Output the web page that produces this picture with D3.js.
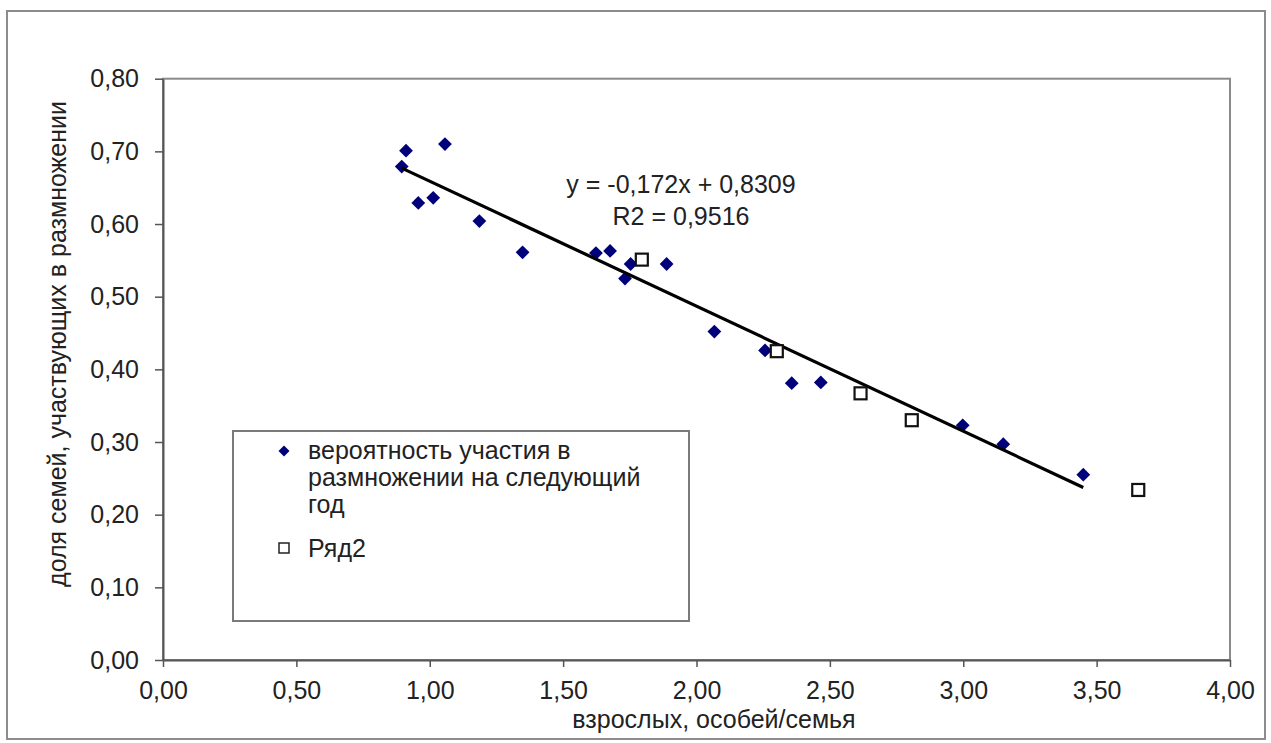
<!DOCTYPE html>
<html>
<head>
<meta charset="utf-8">
<script src="https://cdn.jsdelivr.net/npm/d3@7"></script>
<style>
    html, body { margin: 0; padding: 0; background: #fff; }
    svg { display: block; font-family: 'Liberation Sans', Arial, sans-serif; }
</style>
</head>
<body>
<div id="chart"></div>
<script>
// данные
const series1Name = ['вероятность участия в', 'размножении на следующий', 'год'];
const series1X = [0.895, 0.911, 0.957, 1.013, 1.057, 1.186, 1.348, 1.623, 1.676, 1.732, 1.753, 1.888, 2.067, 2.257, 2.357, 2.466, 2.998, 3.150, 3.450];
const series1Y = [0.679, 0.701, 0.629, 0.636, 0.710, 0.604, 0.561, 0.560, 0.563, 0.525, 0.545, 0.545, 0.452, 0.426, 0.381, 0.382, 0.323, 0.297, 0.255];

const series2Name = 'Ряд2';
const series2X = [1.795, 2.301, 2.615, 2.807, 3.656];
const series2Y = [0.551, 0.425, 0.367, 0.330, 0.234];

// линия тренда по ряду 1
const trendSlope = -0.172;
const trendIntercept = 0.8309;
const trendLabels = ['y = -0,172x + 0,8309', 'R2 = 0,9516'];

const xTicks = [0, 0.5, 1, 1.5, 2, 2.5, 3, 3.5, 4];
const yTicks = [0, 0.1, 0.2, 0.3, 0.4, 0.5, 0.6, 0.7, 0.8];
const xTitle = 'взрослых, особей/семья';
const yTitle = 'доля семей, участвующих в размножении';

const width = 1271;
const height = 743;
const plot = { left: 163, top: 78.7, right: 1230, bottom: 660 };
const fontSize = 25;

const locale = d3.formatLocale({ decimal: ',', thousands: ' ', grouping: [3], currency: ['', ''] });
const fmt = locale.format('.2f');

const svg = d3.select('#chart')
    .append('svg')
    .attr('width', width)
    .attr('height', height);

// внешняя рамка
svg.append('rect')
    .attr('x', 7)
    .attr('y', 11)
    .attr('width', 1258)
    .attr('height', 728)
    .attr('fill', '#fff')
    .attr('stroke', '#8c8c8c')
    .attr('stroke-width', 2);

const x = d3.scaleLinear().domain([0, 4]).range([plot.left, plot.right]);
const y = d3.scaleLinear().domain([0, 0.8]).range([plot.bottom, plot.top]);

// рамка области построения
svg.append('rect')
    .attr('x', plot.left)
    .attr('y', plot.top)
    .attr('width', plot.right - plot.left)
    .attr('height', plot.bottom - plot.top)
    .attr('fill', 'none')
    .attr('stroke', '#8a8a8a')
    .attr('stroke-width', 2);

// оси
const yAxis = d3.axisLeft(y)
    .tickValues(yTicks)
    .tickFormat(fmt)
    .tickSize(8)
    .tickSizeOuter(0)
    .tickPadding(16);
const gy = svg.append('g')
    .attr('transform', `translate(${plot.left}, 0)`)
    .call(yAxis);

const xAxis = d3.axisBottom(x)
    .tickValues(xTicks)
    .tickFormat(fmt)
    .tickSize(7)
    .tickSizeOuter(0)
    .tickPadding(14);
const gx = svg.append('g')
    .attr('transform', `translate(0, ${plot.bottom})`)
    .call(xAxis);

[gx, gy].forEach((g) => {
    g.select('.domain').attr('stroke', '#555').attr('stroke-width', 2);
    g.selectAll('.tick line').attr('stroke', '#555').attr('stroke-width', 1.5);
    g.selectAll('.tick text')
        .attr('fill', '#222')
        .style('font-size', fontSize + 'px')
        .style('font-family', "'Liberation Sans', Arial, sans-serif");
});

// подписи осей
svg.append('text')
    .attr('x', 714)
    .attr('y', 728)
    .attr('text-anchor', 'middle')
    .attr('fill', '#222')
    .style('font-size', fontSize + 'px')
    .text(xTitle);

svg.append('text')
    .attr('transform', 'translate(66, 344) rotate(-90)')
    .attr('text-anchor', 'middle')
    .attr('fill', '#222')
    .style('font-size', fontSize + 'px')
    .text(yTitle);

// ряд 1 — ромбы
const pts1 = series1X.map((d, i) => ({ x: d, y: series1Y[i] }));
const pts2 = series2X.map((d, i) => ({ x: d, y: series2Y[i] }));
const diamond = d3.symbol(d3.symbolSquare, 95);

svg.append('g')
    .selectAll('path')
    .data(pts1)
    .enter()
    .append('path')
    .attr('d', diamond)
    .attr('transform', (d) => `translate(${x(d.x)}, ${y(d.y)}) rotate(45)`)
    .attr('fill', '#00007a');

// линия тренда
const xr = d3.extent(series1X);
const line = d3.line()
    .x((d) => x(d))
    .y((d) => y(trendIntercept + trendSlope * d));
svg.append('path')
    .datum(xr)
    .attr('d', line)
    .attr('fill', 'none')
    .attr('stroke', '#000')
    .attr('stroke-width', 3.2);

// ряд 2 — квадраты
svg.append('g')
    .selectAll('rect')
    .data(pts2)
    .enter()
    .append('rect')
    .attr('x', (d) => x(d.x) - 6)
    .attr('y', (d) => y(d.y) - 6)
    .attr('width', 12)
    .attr('height', 12)
    .attr('fill', '#fff')
    .attr('stroke', '#111')
    .attr('stroke-width', 2.2);

// уравнение тренда
svg.append('g')
    .selectAll('text')
    .data(trendLabels)
    .enter()
    .append('text')
    .attr('x', 681)
    .attr('y', (d, i) => 193 + i * 32)
    .attr('text-anchor', 'middle')
    .attr('fill', '#222')
    .style('font-size', fontSize + 'px')
    .text((d) => d);

// легенда
const legend = svg.append('g');
legend.append('rect')
    .attr('x', 233)
    .attr('y', 431)
    .attr('width', 456)
    .attr('height', 190)
    .attr('fill', '#fff')
    .attr('stroke', '#7a7a7a')
    .attr('stroke-width', 2);

legend.append('path')
    .attr('d', d3.symbol(d3.symbolSquare, 60))
    .attr('transform', 'translate(284, 451) rotate(45)')
    .attr('fill', '#00007a');

legend.append('rect')
    .attr('x', 279)
    .attr('y', 543)
    .attr('width', 10)
    .attr('height', 10)
    .attr('fill', '#fff')
    .attr('stroke', '#222')
    .attr('stroke-width', 1.5);

legend.selectAll('text.s1')
    .data(series1Name)
    .enter()
    .append('text')
    .attr('class', 's1')
    .attr('x', 308)
    .attr('y', (d, i) => 459 + i * 27)
    .attr('fill', '#222')
    .style('font-size', fontSize + 'px')
    .text((d) => d);

legend.append('text')
    .attr('x', 308)
    .attr('y', 557)
    .attr('fill', '#222')
    .style('font-size', fontSize + 'px')
    .text(series2Name);
</script>
</body>
</html>
